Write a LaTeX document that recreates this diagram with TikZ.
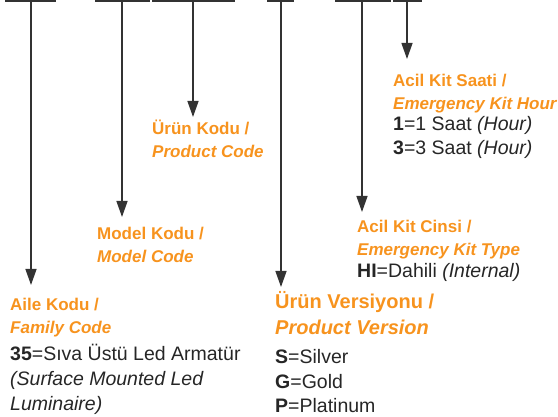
\documentclass[tikz,border=0pt]{standalone}
\usepackage{fontspec}
\setmainfont{Liberation Sans}
\usetikzlibrary{arrows.meta}
\definecolor{turuncu}{RGB}{247,147,30}
\definecolor{koyu}{RGB}{51,51,51}

\begin{document}
\begin{tikzpicture}[x=1pt,y=-1pt,
        bar/.style={koyu, line width=1.6pt},
        ok/.style={koyu, line width=1.3pt, -{Triangle[width=11pt,length=16pt]}},
        head/.style={anchor=base west, inner sep=0pt, align=left, text=turuncu,
                font=\fontsize{17}{23}\selectfont\bfseries},
        body/.style={anchor=base west, inner sep=0pt, align=left, text=black!85,
                font=\fontsize{19.5}{24.7}\selectfont}]
        \useasboundingbox (0,0) rectangle (558,417);
        % bars on top
        \draw[bar] (5,0.8) -- (56,0.8);
        \draw[bar] (95,0.8) -- (150,0.8);
        \draw[bar] (152,0.8) -- (235,0.8);
        \draw[bar] (267,0.8) -- (294,0.8);
        \draw[bar] (335,0.8) -- (391,0.8);
        \draw[bar] (393,0.8) -- (422,0.8);
        % start and end of the arrows
        \coordinate (k1) at (31,0);   \coordinate (u1) at (31,285);
        \coordinate (k2) at (122,0);  \coordinate (u2) at (122,217);
        \coordinate (k3) at (193,0);  \coordinate (u3) at (193,117);
        \coordinate (k4) at (281,0);  \coordinate (u4) at (281,287);
        \coordinate (k5) at (362,0);  \coordinate (u5) at (362,212);
        \coordinate (k6) at (407,0);  \coordinate (u6) at (407,59);
        \draw[ok] (k1) -- (u1);
        \draw[ok] (k2) -- (u2);
        \draw[ok] (k3) -- (u3);
        \draw[ok] (k4) -- (u4);
        \draw[ok] (k5) -- (u5);
        \draw[ok] (k6) -- (u6);
        % Aile Kodu (nodes sit on the baseline of their last line)
        \node[head] (aile) at (10,334) {Aile Kodu /\\\textit{Family Code}};
        \node[body] (aileD) at (10,410) {\textbf{35}=Sıva Üstü Led Armatür\\\textit{(Surface Mounted Led}\\\textit{Luminaire)}};
        % Model Kodu
        \node[head] (model) at (97,263) {Model Kodu /\\\textit{Model Code}};
        % Urun Kodu
        \node[head] (urun) at (152,158) {Ürün Kodu /\\\textit{Product Code}};
        % Urun Versiyonu
        \node[head, font=\fontsize{20}{27}\selectfont\bfseries] (versiyon) at (275,335) {Ürün Versiyonu /\\\textit{Product Version}};
        \node[body] (versiyonD) at (275,413) {\textbf{S}=Silver\\\textbf{G}=Gold\\\textbf{P}=Platinum};
        % Acil Kit Cinsi
        \node[head] (cins) at (357,256) {Acil Kit Cinsi /\\\textit{Emergency Kit Type}};
        \node[body] (cinsD) at (357,278) {\textbf{HI}=Dahili \textit{(Internal)}};
        % Acil Kit Saati
        \node[head] (saat) at (393,110) {Acil Kit Saati /\\\textit{Emergency Kit Hour}};
        \node[body] (saatD) at (393,155) {\textbf{1}=1 Saat \textit{(Hour)}\\\textbf{3}=3 Saat \textit{(Hour)}};
\end{tikzpicture}
\end{document}
